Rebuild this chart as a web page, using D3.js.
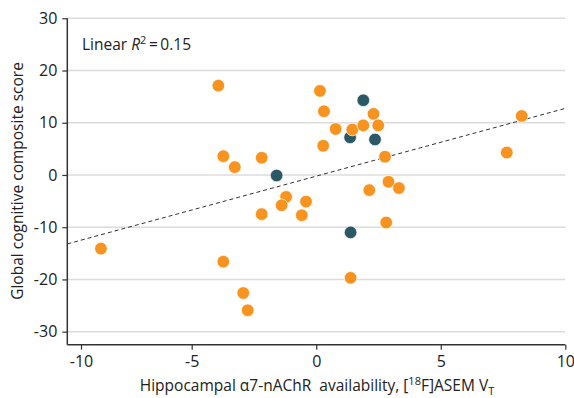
<!DOCTYPE html>
<html>
<head>
<meta charset="utf-8">
<script src="https://cdn.jsdelivr.net/npm/d3@7/dist/d3.min.js"></script>
<style>
  body { margin: 0; background: #fff; }
  text { font-family: "Open Sans", sans-serif; fill: #222; }
</style>
</head>
<body>
<script>
// availability (x) and cognitive score (y)
const orangeX = [-3.93, -3.73, -3.27, -2.19, -1.21, -1.39, -2.19, -0.58, -0.41, -9.10,
  -3.73, -2.93, -2.75, 0.15, 0.31, 0.78, 1.45, 1.89, 2.30, 2.49,
  0.28, 2.76, 2.90, 3.32, 2.13, 2.81, 1.38, 7.65, 8.25];
const orangeY = [17.1, 3.6, 1.5, 3.3, -4.2, -5.8, -7.5, -7.7, -5.1, -14.1,
  -16.6, -22.6, -25.9, 16.1, 12.2, 8.8, 8.7, 9.5, 11.7, 9.5,
  5.6, 3.5, -1.3, -2.5, -2.9, -9.1, -19.7, 4.3, 11.3];
const tealX = [-1.59, 1.89, 1.36, 2.36, 1.38];
const tealY = [-0.1, 14.3, 7.2, 6.8, -11.0];

// fitted line, ends of the plotted segment
const fitX = [-10.62, 10];
const fitY = [-13.2, 12.75];

const xTicks = [-10, -5, 0, 5, 10];
const yTicks = [-30, -20, -10, 0, 10, 20, 30];

const width = 574, height = 398;

const svg = d3.select("body").append("svg")
  .attr("width", width)
  .attr("height", height);

// the original x axis is not evenly spaced below -5, so keep its breaks
const x = d3.scaleLinear()
  .domain([-10.62, -10, -5, 10])
  .range([67.3, 81, 191.7, 565.3]);
const y = d3.scaleLinear()
  .domain([-32.5, 30])
  .range([344.7, 18.3]);

// gridlines
svg.append("g")
  .selectAll("line")
  .data(yTicks)
  .join("line")
  .attr("x1", x(-10.62))
  .attr("x2", x(10))
  .attr("y1", d => y(d))
  .attr("y2", d => y(d))
  .attr("stroke", "#dcdcdc")
  .attr("stroke-width", 1.5);

// axes
const xAxis = svg.append("g")
  .attr("transform", `translate(0,${y(-32.5)})`)
  .call(d3.axisBottom(x).tickValues(xTicks).tickSize(5).tickPadding(6)
    .tickFormat(d => String(d)));
const yAxis = svg.append("g")
  .attr("transform", `translate(${x(-10.62)},0)`)
  .call(d3.axisLeft(y).tickValues(yTicks).tickSize(5).tickPadding(5)
    .tickFormat(d => String(d)));

[xAxis, yAxis].forEach(g => {
  g.select(".domain").attr("stroke", "#333").attr("stroke-width", 1.5);
  g.selectAll(".tick line").attr("stroke", "#333").attr("stroke-width", 1.2);
  g.selectAll(".tick text").style("font-size", "16px").attr("fill", "#222");
});
xAxis.select(".domain").attr("d", `M${x(-10.62)},0H${x(10)}`);
yAxis.select(".domain").attr("d", `M0,${y(30)}V${y(-32.5)}`);

// regression line
svg.append("line")
  .attr("x1", x(fitX[0])).attr("y1", y(fitY[0]))
  .attr("x2", x(fitX[1])).attr("y2", y(fitY[1]))
  .attr("stroke", "#333")
  .attr("stroke-width", 1)
  .attr("stroke-dasharray", "4,3");

// points: teal first, orange drawn over them
const teal = tealX.map((v, i) => ({ x: v, y: tealY[i] }));
const orange = orangeX.map((v, i) => ({ x: v, y: orangeY[i] }));

svg.append("g").selectAll("circle")
  .data(teal)
  .join("circle")
  .attr("cx", d => x(d.x))
  .attr("cy", d => y(d.y))
  .attr("r", 6.3)
  .attr("fill", "#2c5866")
  .attr("stroke", "#fff")
  .attr("stroke-width", 0.7);

svg.append("g").selectAll("circle")
  .data(orange)
  .join("circle")
  .attr("cx", d => x(d.x))
  .attr("cy", d => y(d.y))
  .attr("r", 6.3)
  .attr("fill", "#f7931e")
  .attr("stroke", "#fff")
  .attr("stroke-width", 0.7);

// annotation
const ann = svg.append("text")
  .attr("x", 82)
  .attr("y", 50)
  .style("font-size", "15.5px");
ann.append("tspan").text("Linear ");
ann.append("tspan").style("font-style", "italic").text("R");
ann.append("tspan").attr("dy", -6).style("font-size", "11px").text("2");
ann.append("tspan").attr("dy", 6).text("\u2009=\u20090.15");

// axis titles
const xl = svg.append("text")
  .attr("x", 317)
  .attr("y", 391)
  .attr("text-anchor", "middle")
  .style("font-size", "15.5px")
  .style("white-space", "pre");
xl.append("tspan").text("Hippocampal \u03b17-nAChR  availability, [");
xl.append("tspan").attr("dy", -6).style("font-size", "11px").text("18");
xl.append("tspan").attr("dy", 6).text("F]ASEM V");
xl.append("tspan").attr("dy", 4).style("font-size", "11px").text("T");

svg.append("text")
  .attr("transform", "translate(23,181) rotate(-90)")
  .attr("text-anchor", "middle")
  .style("font-size", "15.5px")
  .text("Global cognitive composite score");
</script>
</body>
</html>
